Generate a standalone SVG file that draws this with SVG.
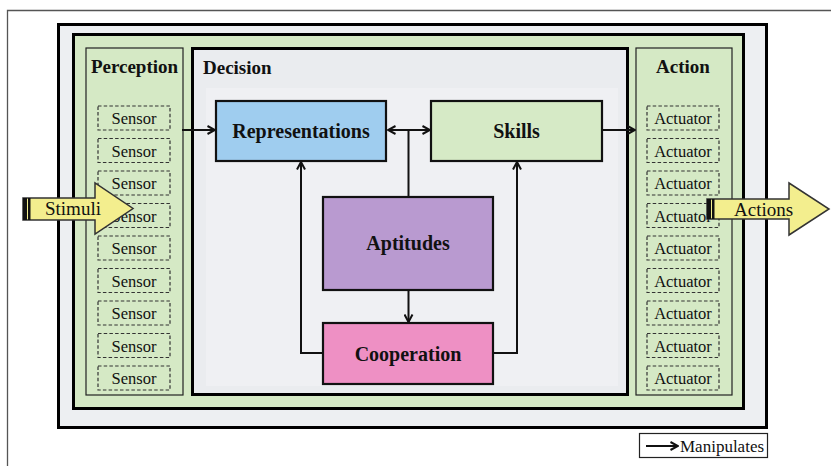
<svg xmlns="http://www.w3.org/2000/svg" width="831" height="466" viewBox="0 0 831 466" font-family="'Liberation Serif','Times New Roman','DejaVu Serif',serif">
<defs>
<style>
text{font-family:'Liberation Serif','Times New Roman','DejaVu Serif',serif;fill:#111}
.sm{font-size:16.5px}
.ttl{font-size:19px;font-weight:bold}
.nd{font-size:20px;font-weight:bold}
.dash{fill:none;stroke:#333;stroke-width:1.2;stroke-dasharray:3.5,2.2}
.con{fill:none;stroke:#111;stroke-width:2}
.node{stroke:#111;stroke-width:2.2}
.arrowbig{fill:#f3ee8e;stroke:#333;stroke-width:1.5}
</style>
<marker id="arr" viewBox="0 0 10 10" refX="9" refY="5" markerWidth="10" markerHeight="10" markerUnits="userSpaceOnUse" orient="auto-start-reverse">
<path d="M1.5,1 L9,5 L1.5,9" fill="none" stroke="#111" stroke-width="2"/>
</marker>
</defs>
<rect width="831" height="466" fill="#ffffff"/>
<path d="M7.5,466 V10.5 H831" fill="none" stroke="#555" stroke-width="1.3"/>

<g id="system">
<rect x="58.5" y="24.5" width="708" height="403" fill="#edeff2" stroke="#000" stroke-width="3"/>
<rect x="73.5" y="34.5" width="670" height="374" fill="#d5e9c5" stroke="#000" stroke-width="3"/>
</g>

<g id="perception">
<rect x="86" y="48" width="97" height="347" fill="#d5e9c5" stroke="#222" stroke-width="1.2"/>
<text class="ttl" x="134.5" y="73" text-anchor="middle">Perception</text>
<g class="sensors">
<rect class="dash" x="98" y="106" width="72" height="24"/>
<rect class="dash" x="98" y="138.5" width="72" height="24"/>
<rect class="dash" x="98" y="171" width="72" height="24"/>
<rect class="dash" x="98" y="203.5" width="72" height="24"/>
<rect class="dash" x="98" y="236" width="72" height="24"/>
<rect class="dash" x="98" y="268.5" width="72" height="24"/>
<rect class="dash" x="98" y="301" width="72" height="24"/>
<rect class="dash" x="98" y="333.5" width="72" height="24"/>
<rect class="dash" x="98" y="366" width="72" height="24"/>
<text class="sm" x="134" y="124" text-anchor="middle">Sensor</text>
<text class="sm" x="134" y="156.5" text-anchor="middle">Sensor</text>
<text class="sm" x="134" y="189" text-anchor="middle">Sensor</text>
<text class="sm" x="134" y="221.5" text-anchor="middle">Sensor</text>
<text class="sm" x="134" y="254" text-anchor="middle">Sensor</text>
<text class="sm" x="134" y="286.5" text-anchor="middle">Sensor</text>
<text class="sm" x="134" y="319" text-anchor="middle">Sensor</text>
<text class="sm" x="134" y="351.5" text-anchor="middle">Sensor</text>
<text class="sm" x="134" y="384" text-anchor="middle">Sensor</text>
</g>
</g>

<g id="decision">
<rect x="192.5" y="48.5" width="435" height="346" fill="#eaecef" stroke="#000" stroke-width="3"/>
<rect x="206" y="88" width="412" height="298" fill="#eff0f3"/>
<text class="ttl" x="203" y="74">Decision</text>
</g>

<g id="action">
<rect x="636" y="48" width="96" height="347" fill="#d5e9c5" stroke="#222" stroke-width="1.2"/>
<text class="ttl" x="683" y="73" text-anchor="middle">Action</text>
<g class="actuators">
<rect class="dash" x="647" y="106" width="72" height="24"/>
<rect class="dash" x="647" y="138.5" width="72" height="24"/>
<rect class="dash" x="647" y="171" width="72" height="24"/>
<rect class="dash" x="647" y="203.5" width="72" height="24"/>
<rect class="dash" x="647" y="236" width="72" height="24"/>
<rect class="dash" x="647" y="268.5" width="72" height="24"/>
<rect class="dash" x="647" y="301" width="72" height="24"/>
<rect class="dash" x="647" y="333.5" width="72" height="24"/>
<rect class="dash" x="647" y="366" width="72" height="24"/>
<text class="sm" x="683" y="124" text-anchor="middle">Actuator</text>
<text class="sm" x="683" y="156.5" text-anchor="middle">Actuator</text>
<text class="sm" x="683" y="189" text-anchor="middle">Actuator</text>
<text class="sm" x="683" y="221.5" text-anchor="middle">Actuator</text>
<text class="sm" x="683" y="254" text-anchor="middle">Actuator</text>
<text class="sm" x="683" y="286.5" text-anchor="middle">Actuator</text>
<text class="sm" x="683" y="319" text-anchor="middle">Actuator</text>
<text class="sm" x="683" y="351.5" text-anchor="middle">Actuator</text>
<text class="sm" x="683" y="384" text-anchor="middle">Actuator</text>
</g>
</g>

<g id="connectors">
<path class="con" d="M182,130 H215" marker-end="url(#arr)"/>
<path class="con" d="M388,130 H430" marker-start="url(#arr)" marker-end="url(#arr)"/>
<path class="con" d="M408.5,130 V197"/>
<path class="con" d="M602,130 H635" marker-end="url(#arr)"/>
<path class="con" d="M408.5,290 V322" marker-end="url(#arr)"/>
<path class="con" d="M323,353 H301 V162" marker-end="url(#arr)"/>
<path class="con" d="M493,353 H517 V162" marker-end="url(#arr)"/>
</g>

<g id="representations">
<rect class="node" x="216" y="101" width="170" height="60" fill="#9fcdef"/>
<text class="nd" x="301" y="138" text-anchor="middle">Representations</text>
</g>
<g id="skills">
<rect class="node" x="431" y="101" width="171" height="60" fill="#d6eac6"/>
<text class="nd" x="516.5" y="138" text-anchor="middle">Skills</text>
</g>
<g id="aptitudes">
<rect class="node" x="323" y="197" width="170" height="93" fill="#b99ad0"/>
<text class="nd" x="408" y="250" text-anchor="middle">Aptitudes</text>
</g>
<g id="cooperation">
<rect class="node" x="323" y="323" width="170" height="61" fill="#ee90c4"/>
<text class="nd" x="408" y="361" text-anchor="middle">Cooperation</text>
</g>

<g id="stimuli">
<path class="arrowbig" d="M23,198 H95 V183 L133,208.5 L95,234 V220 H23 Z"/>
<rect x="23" y="198" width="4" height="22" fill="#111"/>
<rect x="28" y="198" width="2.5" height="22" fill="#111"/>
<text font-size="19" x="45" y="215">Stimuli</text>
</g>

<g id="actions">
<path class="arrowbig" d="M707,199 H789 V183 L829,209 L789,235 V219 H707 Z"/>
<rect x="707" y="199" width="4" height="20" fill="#111"/>
<rect x="712" y="199" width="2.5" height="20" fill="#111"/>
<text font-size="19" x="734" y="216">Actions</text>
</g>

<g id="legend">
<rect x="639.5" y="433.5" width="128" height="24" fill="#ffffff" stroke="#222" stroke-width="1.2"/>
<path class="con" d="M646,446 H678" marker-end="url(#arr)"/>
<text font-size="17" x="680" y="452">Manipulates</text>
</g>
</svg>
